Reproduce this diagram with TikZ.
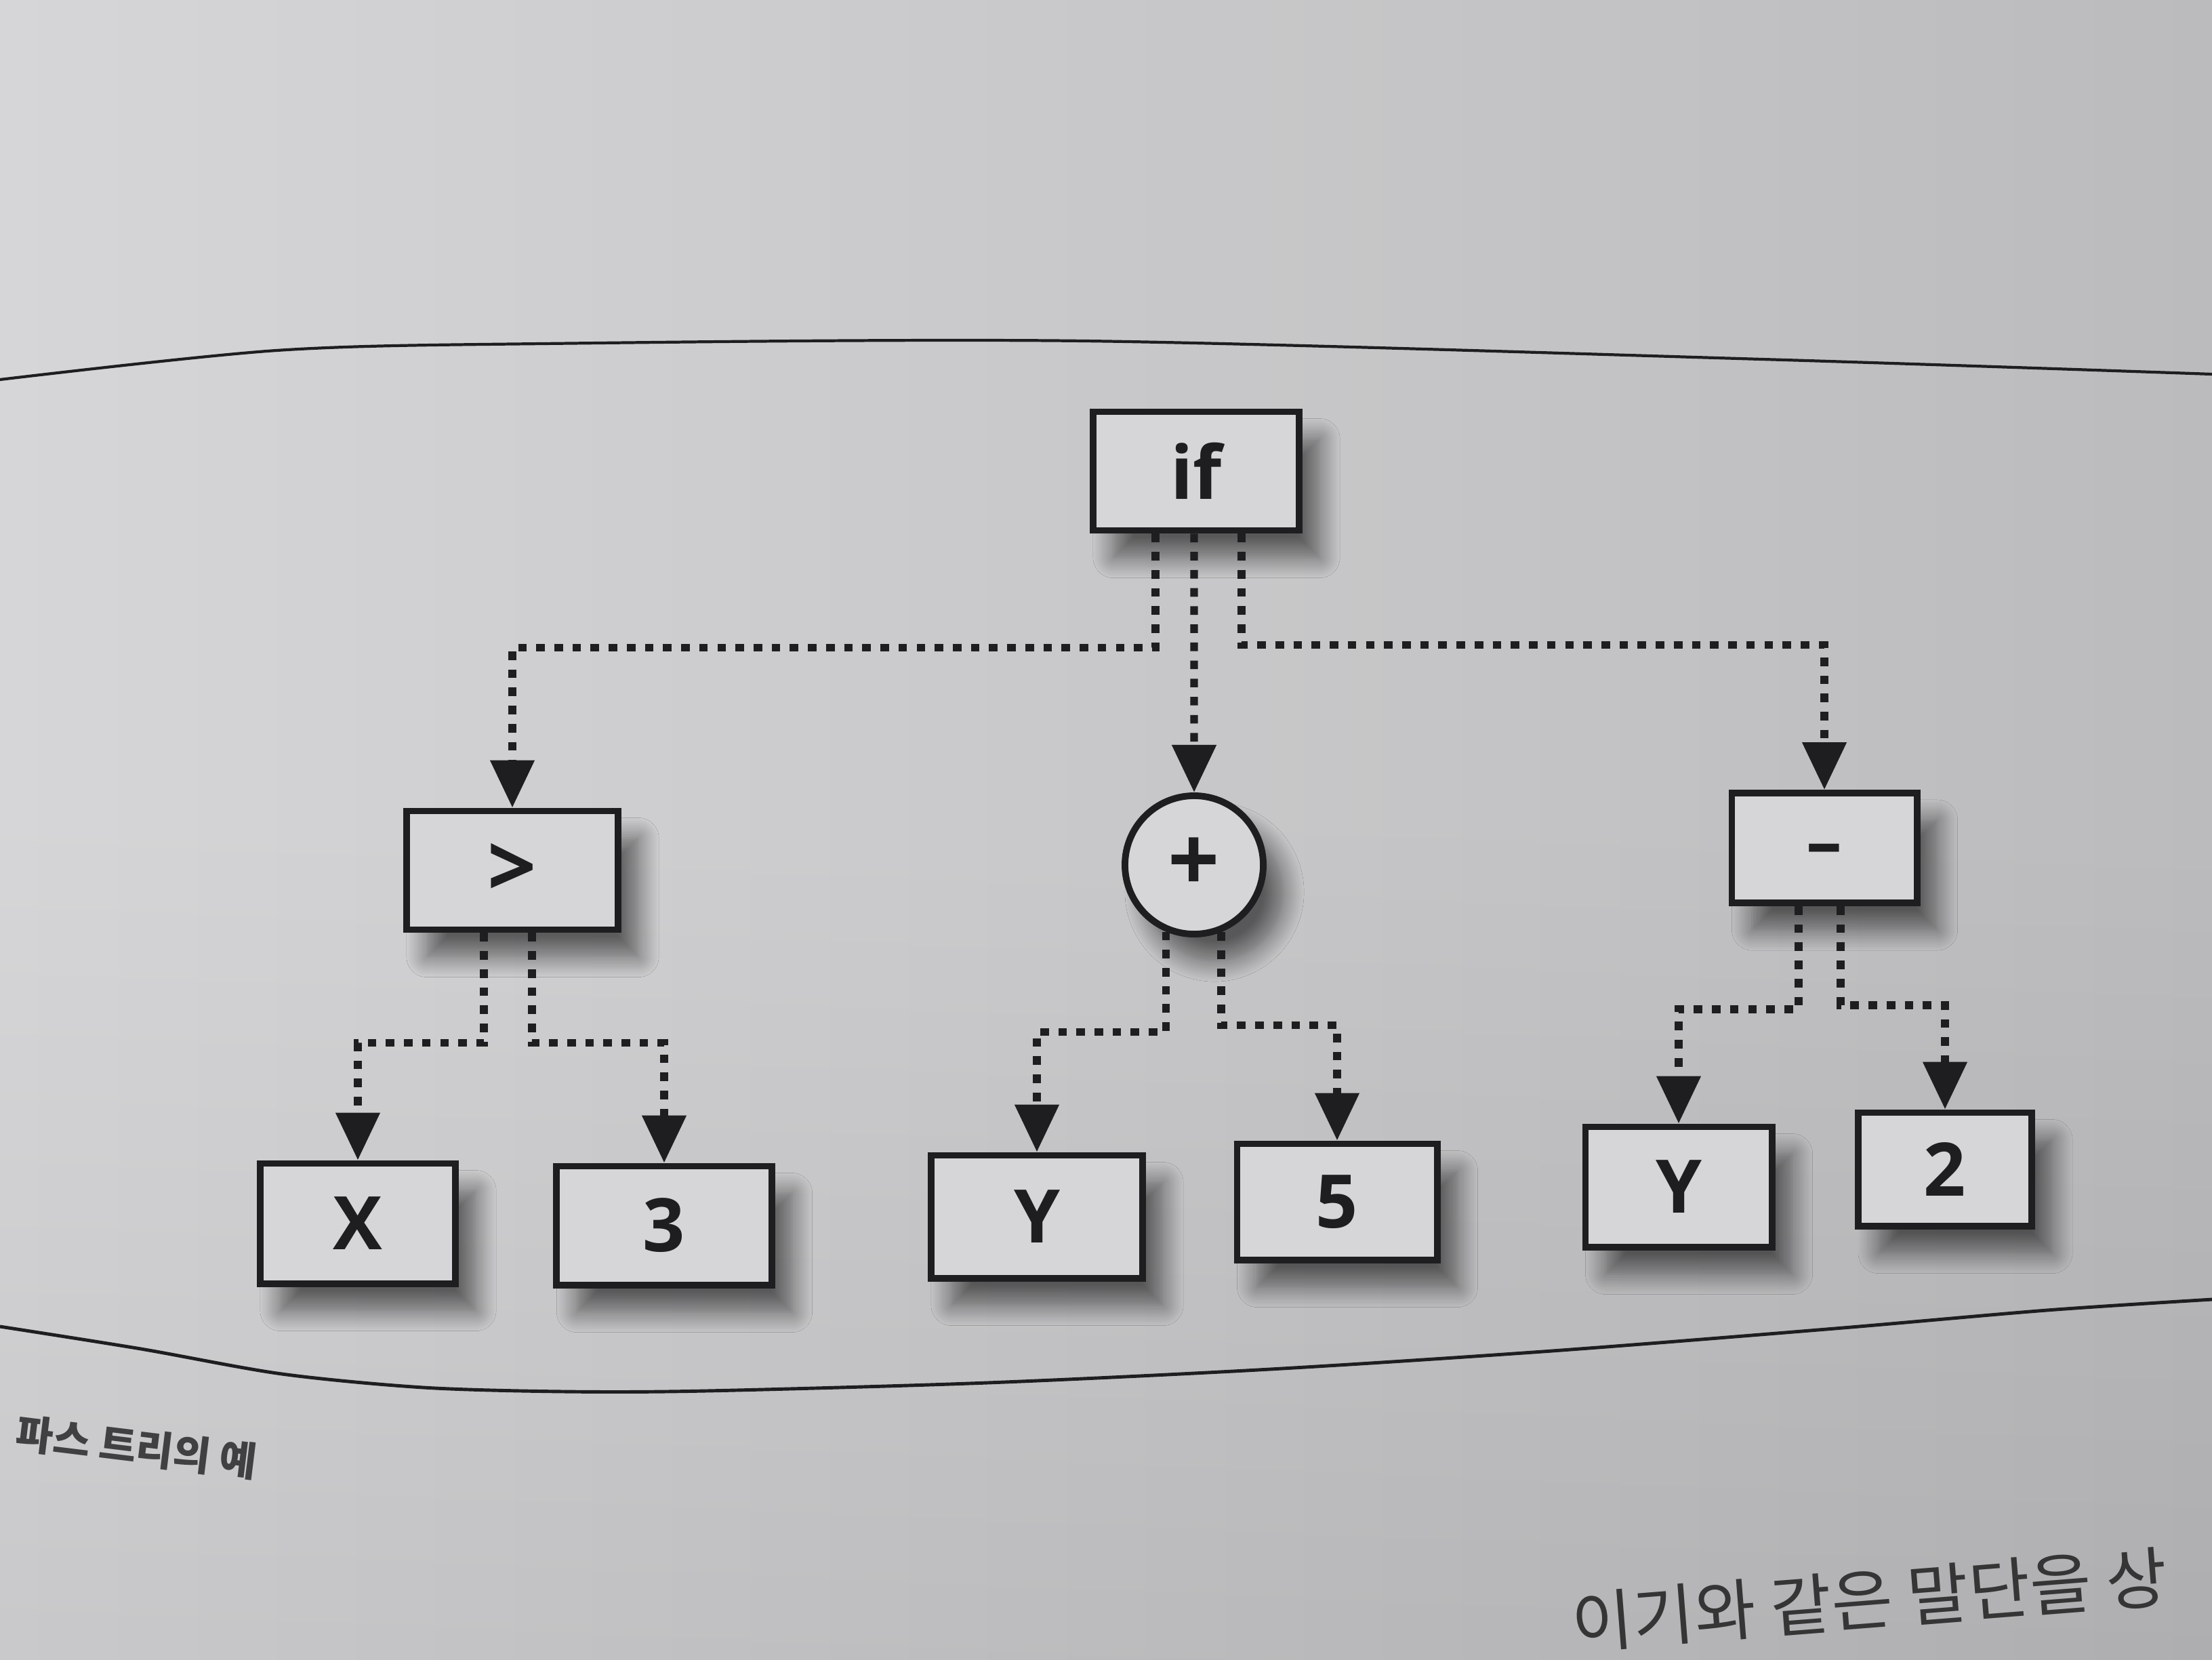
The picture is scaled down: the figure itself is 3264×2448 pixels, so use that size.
\documentclass[tikz,border=0pt]{standalone}
\usepackage{fontspec}
\setmainfont{Open Sans}
\newfontfamily\labfont{Open Sans}
\newfontfamily\krfont{Noto Sans CJK KR}
\usetikzlibrary{arrows.meta,shadows.blur,calc}
\definecolor{ink}{RGB}{30,30,32}
\definecolor{boxfill}{RGB}{214,214,216}
\definecolor{pageL}{RGB}{212,212,214}
\definecolor{pageR}{RGB}{184,184,187}
\begin{document}
\begin{tikzpicture}[x=0.01cm,y=-0.01cm,
  shad/.style={blur shadow={shadow xshift=0.3cm, shadow yshift=-0.4cm, shadow blur radius=0.3cm,
    shadow blur steps=12, shadow opacity=55}},
  tbox/.style={rectangle, draw=ink, line width=2.8pt, fill=boxfill, inner sep=0pt, shad,
    font=\labfont\fontsize{31}{31}\selectfont\bfseries, text=ink},
  opbox/.style={tbox, font=\labfont\fontsize{36}{36}\selectfont\bfseries},
  cbox/.style={circle, draw=ink, line width=2.8pt, fill=boxfill, inner sep=0pt, minimum size=2.04cm, shad,
    font=\labfont\fontsize{38}{38}\selectfont\bfseries, text=ink},
  conn/.style={draw=ink, line width=3.2pt, dash pattern=on 3.6pt off 4pt,
    -{Triangle[width=0.63cm,length=0.7cm]}},
  frame/.style={draw=ink, line width=1.4pt},
]
\useasboundingbox (0,0) rectangle (3264,2448);
\shade[left color=pageL, right color=pageR] (0,0) rectangle (3264,2448);
\shade[top color=white, bottom color=black, middle color=white, opacity=0.05] (0,0) rectangle (3264,2448);

% page frame lines
\draw[frame, line width=1.2pt] plot[smooth] coordinates {(0,560) (408,517) (800,507) (1600,503) (2600,530) (3264,552)};
\draw[frame] plot[smooth] coordinates {(0,1957) (208,1990) (416,2027) (625,2047) (833,2053) (1041,2052) (1457,2040) (1874,2020) (2290,1993) (2707,1960) (3020,1933) (3264,1917)};

% nodes
\node[tbox, minimum width=3.04cm, minimum height=1.75cm] (if) at (1765,695) {if};
\node[opbox, minimum width=3.12cm, minimum height=1.75cm] (gt) at (756,1284) {>};
\node[cbox] (plus) at (1762,1276) {+};
\node[opbox, minimum width=2.73cm, minimum height=1.62cm, text height=16pt, text depth=0pt,
  font=\labfont\fontsize{30}{30}\selectfont\bfseries] (minus) at (2692,1251) {–};
\node[tbox, minimum width=2.88cm, minimum height=1.77cm] (x) at (528,1805) {X};
\node[tbox, minimum width=3.17cm, minimum height=1.75cm] (three) at (980,1808) {3};
\node[tbox, minimum width=3.12cm, minimum height=1.81cm] (y1) at (1530,1795) {Y};
\node[tbox, minimum width=2.95cm, minimum height=1.71cm] (five) at (1973,1773) {5};
\node[tbox, minimum width=2.75cm, minimum height=1.77cm] (y2) at (2477,1751) {Y};
\node[tbox, minimum width=2.56cm, minimum height=1.67cm] (two) at (2870,1725) {2};

% connectors
\draw[conn] ([xshift=-0.60cm]if.south) -- ++(0,168) -| (gt.north);
\draw[conn] ([xshift=-0.03cm]if.south) -- (plus.north);
\draw[conn] ([xshift=0.67cm]if.south) -- ++(0,164) -| (minus.north);
\draw[conn] ([xshift=-0.42cm]gt.south) -- ++(0,162) -| (x.north);
\draw[conn] ([xshift=0.29cm]gt.south) -- ++(0,162) -| (three.north);
\draw[conn] (plus.-113) -- ++(0,148) -| (y1.north);
\draw[conn] (plus.-68) -- ++(0,137) -| (five.north);
\draw[conn] ([xshift=-0.38cm]minus.south) -- ++(0,152) -| (y2.north);
\draw[conn] ([xshift=0.24cm]minus.south) -- ++(0,146) -| (two.north);

% caption and body text
\node[font=\krfont\bfseries\fontsize{17}{17}\selectfont, text=ink!85, rotate=-7, anchor=west] (cap) at (12,2112)
  {파스 트리의 예};
\node[font=\krfont\fontsize{28}{28}\selectfont, text=ink!90, rotate=4.5, anchor=base west] (body) at (2310,2432)
  {이기와 같은 말단을 상};
\end{tikzpicture}
\end{document}
